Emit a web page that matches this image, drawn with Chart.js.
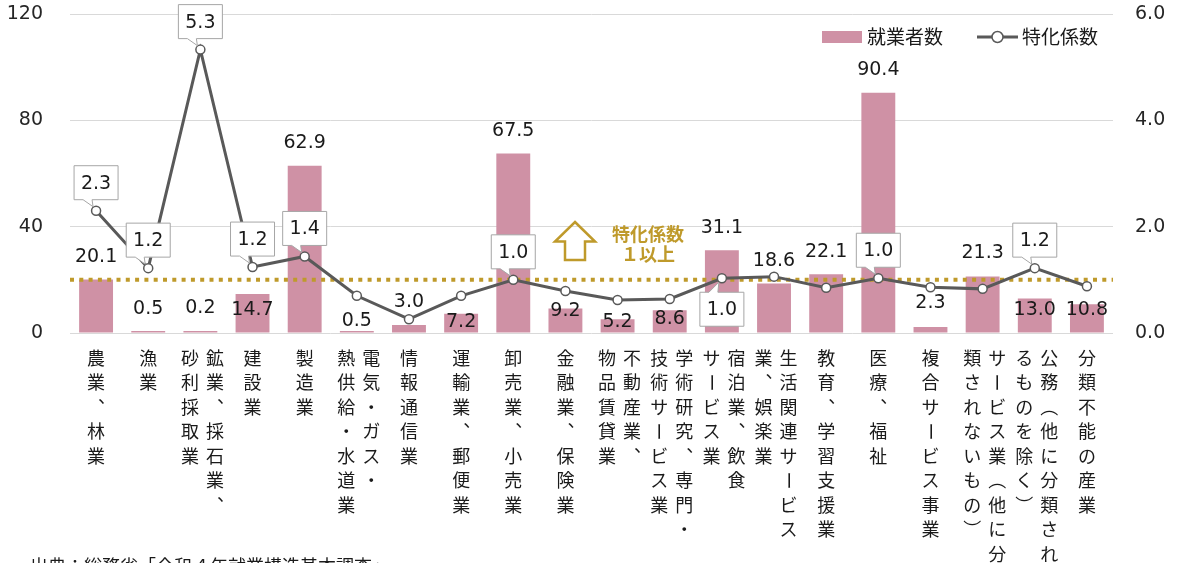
<!DOCTYPE html>
<html lang="ja">
<head>
<meta charset="utf-8">
<title>産業別就業者数と特化係数</title>
<script src="https://cdn.jsdelivr.net/npm/chart.js@4.4.1/dist/chart.umd.min.js"></script>
<style>
  html, body { margin: 0; padding: 0; background: #fff; }
  #wrap { position: relative; width: 1182px; height: 563px; }
</style>
</head>
<body>
<div id="wrap"><canvas id="chart"></canvas></div>
<script>
// 産業分類（縦書きラベル用に列ごと、右の列から）
const labelColumns = [
  ['農業、林業'],
  ['漁業'],
  ['鉱業、採石業、', '砂利採取業'],
  ['建設業'],
  ['製造業'],
  ['電気・ガス・', '熱供給・水道業'],
  ['情報通信業'],
  ['運輸業、郵便業'],
  ['卸売業、小売業'],
  ['金融業、保険業'],
  ['不動産業、', '物品賃貸業'],
  ['学術研究、専門・', '技術サービス業'],
  ['宿泊業、飲食', 'サービス業'],
  ['生活関連サービス', '業、娯楽業'],
  ['教育、学習支援業'],
  ['医療、福祉'],
  ['複合サービス事業'],
  ['サービス業（他に分', '類されないもの）'],
  ['公務（他に分類され', 'るものを除く）'],
  ['分類不能の産業']
];
const industries = labelColumns.map(cols => cols.join(''));

// 就業者数（百人）と特化係数
const workers = [20.1, 0.5, 0.2, 14.7, 62.9, 0.5, 3.0, 7.2, 67.5, 9.2, 5.2, 8.6, 31.1, 18.6, 22.1, 90.4, 2.3, 21.3, 13.0, 10.8];
const coefficient = [2.3, 1.22, 5.33, 1.24, 1.44, 0.70, 0.26, 0.70, 1.0, 0.79, 0.62, 0.64, 1.03, 1.06, 0.85, 1.03, 0.86, 0.83, 1.22, 0.88];

// 吹き出しを付ける項目と、下側に出す項目
const calloutIdx = [0, 1, 2, 3, 4, 8, 12, 15, 18];
const calloutBelow = [12];

// 棒の値ラベルの位置（棒の上端からのずれ、px）。折れ線と重ならないよう個別に調整
const barLabelShift = [-23, -22, -23, 16, -23, -10, -23, 8, -23, 3, 3, 9, -22, -22, -22, -23, -24, -23, 12, 6];

const leftAxis = { min: 0, max: 120, step: 40 };
const rightAxis = { min: 0, max: 6, step: 2 };
const threshold = 1.0;

const seriesNames = ['就業者数', '特化係数'];
const sourceNote = '出典：総務省「令和４年就業構造基本調査」';

const NUM_FONT = '19px "DejaVu Sans", "Noto Sans CJK JP", sans-serif';
const JP_FONT = '"Noto Sans CJK JP", sans-serif';
const GOLD = '#BF9A2B';
const BAR = '#CF91A5';
const LINE = '#595959';

// 縦書き用の字形
const verticalMap = { '、': '︑', '（': '︵', '）': '︶' };

const overlay = {
  id: 'overlay',
  afterDatasetDraw(chart, args) {
    // 特化係数 1 の基準線（棒の上、折れ線の下）
    if (args.meta.type !== 'bar') return;
    const ctx = chart.ctx;
    const area = chart.chartArea;
    const y = chart.scales.y1.getPixelForValue(threshold);
    ctx.save();
    ctx.strokeStyle = GOLD;
    ctx.lineWidth = 4;
    ctx.setLineDash([4, 5.3]);
    ctx.beginPath();
    ctx.moveTo(area.left, y);
    ctx.lineTo(area.right, y);
    ctx.stroke();
    ctx.restore();
  },
  afterDatasetsDraw(chart) {
    const ctx = chart.ctx;
    const barMeta = chart.getDatasetMeta(0);
    const lineMeta = chart.getDatasetMeta(1);

    // 棒の値
    ctx.save();
    ctx.font = NUM_FONT;
    ctx.fillStyle = '#1a1a1a';
    ctx.textAlign = 'center';
    ctx.textBaseline = 'middle';
    barMeta.data.forEach((bar, i) => {
      ctx.fillText(workers[i].toFixed(1), bar.x, bar.y + barLabelShift[i]);
    });
    ctx.restore();

    // 特化係数の吹き出し
    calloutIdx.forEach(i => {
      const pt = lineMeta.data[i];
      drawCallout(ctx, pt.x, pt.y, coefficient[i].toFixed(1), calloutBelow.includes(i));
    });
  },
  afterDraw(chart) {
    const ctx = chart.ctx;
    const xs = chart.scales.x;

    // 縦書きの項目名
    ctx.save();
    ctx.font = '18px ' + JP_FONT;
    ctx.fillStyle = '#1a1a1a';
    ctx.textAlign = 'center';
    ctx.textBaseline = 'middle';
    labelColumns.forEach((cols, i) => {
      const cx = xs.getPixelForValue(i) + (cols.length > 1 ? 2 : 0);
      cols.forEach((col, c) => {
        const colX = cx + ((cols.length - 1) / 2 - c) * 25;
        [...col].forEach((ch, r) => {
          const cy = xs.top + 25 + r * 24.5;
          if (ch === 'ー') {
            ctx.save();
            ctx.translate(colX, cy);
            ctx.rotate(Math.PI / 2);
            ctx.fillText(ch, 0, 0);
            ctx.restore();
          } else {
            ctx.fillText(verticalMap[ch] || ch, colX, cy);
          }
        });
      });
    });
    ctx.restore();

    // 凡例
    ctx.save();
    ctx.fillStyle = BAR;
    ctx.fillRect(822, 31, 40, 12);
    ctx.font = '19px ' + JP_FONT;
    ctx.fillStyle = '#1a1a1a';
    ctx.textBaseline = 'middle';
    ctx.fillText(seriesNames[0], 867, 37);
    ctx.strokeStyle = LINE;
    ctx.lineWidth = 3;
    ctx.beginPath();
    ctx.moveTo(977, 37);
    ctx.lineTo(1018, 37);
    ctx.stroke();
    ctx.beginPath();
    ctx.arc(997.5, 37, 5.5, 0, Math.PI * 2);
    ctx.fillStyle = '#fff';
    ctx.fill();
    ctx.lineWidth = 1.5;
    ctx.stroke();
    ctx.fillStyle = '#1a1a1a';
    ctx.fillText(seriesNames[1], 1022, 37);
    ctx.restore();

    // 「特化係数 1以上」の矢印と注記
    ctx.save();
    ctx.strokeStyle = GOLD;
    ctx.lineWidth = 2.5;
    ctx.lineJoin = 'miter';
    ctx.beginPath();
    ctx.moveTo(575, 222);
    ctx.lineTo(595, 241.5);
    ctx.lineTo(585, 241.5);
    ctx.lineTo(585, 260);
    ctx.lineTo(565, 260);
    ctx.lineTo(565, 241.5);
    ctx.lineTo(555, 241.5);
    ctx.closePath();
    ctx.stroke();
    ctx.fillStyle = GOLD;
    ctx.font = 'bold 18px ' + JP_FONT;
    ctx.textAlign = 'center';
    ctx.textBaseline = 'middle';
    ctx.fillText('特化係数', 648, 234);
    ctx.fillText('１以上', 648, 254);
    ctx.restore();

    // 出典
    ctx.save();
    ctx.font = '18px ' + JP_FONT;
    ctx.fillStyle = '#1a1a1a';
    ctx.textBaseline = 'alphabetic';
    ctx.fillText(sourceNote, 30, 573);
    ctx.restore();
  }
};

function drawCallout(ctx, px, py, text, below) {
  const w = 44, h = 34;
  const cy = below ? py + 31 : py - 28;
  const x0 = px - w / 2, y0 = cy - h / 2;
  ctx.save();
  ctx.beginPath();
  if (below) {
    ctx.moveTo(x0, y0);
    ctx.lineTo(px - 13, y0);
    ctx.lineTo(px - 3, py + 4);
    ctx.lineTo(px - 4, y0);
    ctx.lineTo(x0 + w, y0);
    ctx.lineTo(x0 + w, y0 + h);
    ctx.lineTo(x0, y0 + h);
  } else {
    ctx.moveTo(x0, y0);
    ctx.lineTo(x0 + w, y0);
    ctx.lineTo(x0 + w, y0 + h);
    ctx.lineTo(px - 4, y0 + h);
    ctx.lineTo(px - 3, py - 4);
    ctx.lineTo(px - 13, y0 + h);
    ctx.lineTo(x0, y0 + h);
  }
  ctx.closePath();
  ctx.fillStyle = '#fff';
  ctx.fill();
  ctx.strokeStyle = '#a6a6a6';
  ctx.lineWidth = 1;
  ctx.stroke();
  ctx.font = NUM_FONT;
  ctx.fillStyle = '#1a1a1a';
  ctx.textAlign = 'center';
  ctx.textBaseline = 'middle';
  ctx.fillText(text, px, cy + 1);
  ctx.restore();
}

// 目盛り文字のはみ出し分を詰めて、プロット領域を上端近くまで広げる
function fitVertical(width) {
  return s => {
    s.width = width;
    s.paddingTop = 0;
    s.paddingBottom = 0;
  };
}

new Chart(document.getElementById('chart'), {
  type: 'bar',
  data: {
    labels: industries,
    datasets: [
      {
        label: seriesNames[0],
        data: workers,
        backgroundColor: BAR,
        barPercentage: 0.65,
        categoryPercentage: 1,
        minBarLength: 2,
        yAxisID: 'y',
        order: 2
      },
      {
        type: 'line',
        label: seriesNames[1],
        data: coefficient,
        borderColor: LINE,
        borderWidth: 3,
        pointRadius: 4.5,
        pointBorderWidth: 1.5,
        pointBackgroundColor: '#fff',
        pointBorderColor: LINE,
        tension: 0,
        yAxisID: 'y1',
        order: 1
      }
    ]
  },
  options: {
    responsive: true,
    maintainAspectRatio: false,
    animation: false,
    events: [],
    layout: { padding: { top: 14, left: 0, right: 0, bottom: 0 } },
    plugins: {
      legend: { display: false },
      tooltip: { enabled: false }
    },
    scales: {
      x: {
        offset: true,
        grid: { display: false },
        border: { display: false },
        ticks: { display: false },
        afterFit: s => { s.height = 230; }
      },
      y: {
        position: 'left',
        min: leftAxis.min,
        max: leftAxis.max,
        ticks: {
          stepSize: leftAxis.step,
          color: '#262626',
          font: { family: '"DejaVu Sans", sans-serif', size: 19 },
          padding: 27
        },
        grid: { color: '#d9d9d9', lineWidth: 1, drawTicks: false },
        border: { display: false },
        afterFit: fitVertical(70)
      },
      y1: {
        position: 'right',
        min: rightAxis.min,
        max: rightAxis.max,
        ticks: {
          stepSize: rightAxis.step,
          color: '#262626',
          font: { family: '"DejaVu Sans", sans-serif', size: 19 },
          padding: 22,
          callback: v => v.toFixed(1)
        },
        grid: { display: false, drawTicks: false },
        border: { display: false },
        afterFit: fitVertical(69)
      }
    }
  },
  plugins: [overlay]
});
</script>
</body>
</html>
